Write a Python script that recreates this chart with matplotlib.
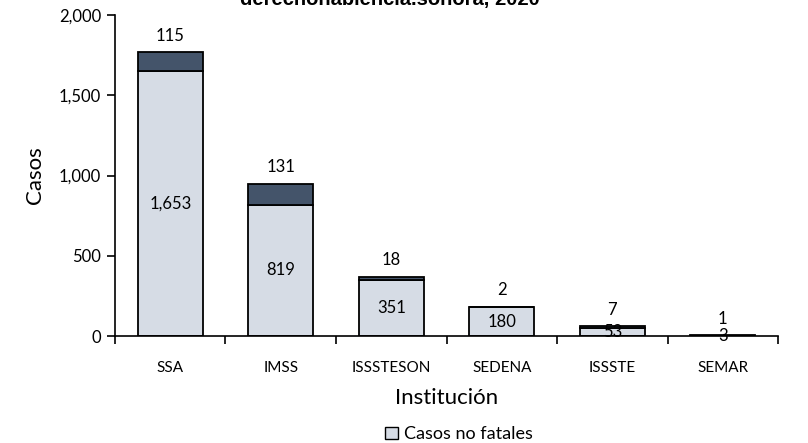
import matplotlib.pyplot as plt
from matplotlib.patches import Patch
import numpy as np

plt.rcParams['font.family'] = ['Lato', 'DejaVu Sans']

instituciones = ["SSA", "IMSS", "ISSSTESON", "SEDENA", "ISSSTE", "SEMAR"]
no_fatales = [1653, 819, 351, 180, 53, 3]
fatales = [115, 131, 18, 2, 7, 1]

col_no = "#D6DCE5"
col_fat = "#44546A"

fig = plt.figure(figsize=(8.08, 4.43), dpi=100)
ax = fig.add_axes([0.1423, 0.2415, 0.8207, 0.7245])

x = np.arange(len(instituciones))
w = 0.59
ax.bar(x, no_fatales, w, color=col_no, edgecolor="black", linewidth=1.3, zorder=2)
ax.bar(x, fatales, w, bottom=no_fatales, color=col_fat, edgecolor="black",
       linewidth=1.3, zorder=2)

for i in range(len(x)):
    ax.text(x[i], no_fatales[i] / 2, f"{no_fatales[i]:,}", ha="center", va="center",
            fontsize=12, zorder=3)
    ax.annotate(f"{fatales[i]:,}", (x[i], no_fatales[i] + fatales[i]),
                xytext=(0, 6), textcoords="offset points", ha="center",
                va="bottom", fontsize=12)

ax.set_xlim(-0.5, len(x) - 0.5)
ax.set_ylim(0, 2000)
ax.set_yticks([0, 500, 1000, 1500, 2000])
ax.yaxis.set_major_formatter(plt.FuncFormatter(lambda v, p: f"{int(v):,}"))
ax.set_xticks(x)
ax.set_xticklabels(instituciones)
ax.set_xticks(np.arange(len(x) + 1) - 0.5, minor=True)
ax.tick_params(axis="x", which="major", length=0, labelsize=11, pad=18)
ax.tick_params(axis="x", which="minor", length=6, width=1.2, direction="out")
ax.tick_params(axis="y", length=6, width=1.2, labelsize=12, pad=4)

for s in ["top", "right"]:
    ax.spines[s].set_visible(False)
for s in ["left", "bottom"]:
    ax.spines[s].set_linewidth(1.2)

ax.set_ylabel("Casos", fontsize=16, labelpad=10)
ax.set_xlabel("Institución", fontsize=16, labelpad=9)

# el titulo aparece recortado en el borde superior, como en la figura original
fig.text(0.483, 1.0 - 5 / 443, "derechohabiencia.sonora, 2020", ha="center",
         va="baseline", fontsize=14.5, fontweight="bold",
         family=["Liberation Sans", "DejaVu Sans"])

fig.legend(handles=[Patch(facecolor=col_no, edgecolor="black", linewidth=1)],
           labels=["Casos no fatales"], loc="lower center",
           bbox_to_anchor=(0.568, -0.035), frameon=False, fontsize=13,
           handlelength=0.7, handleheight=0.7, handletextpad=0.3)

fig.savefig("out.png", dpi=100)
